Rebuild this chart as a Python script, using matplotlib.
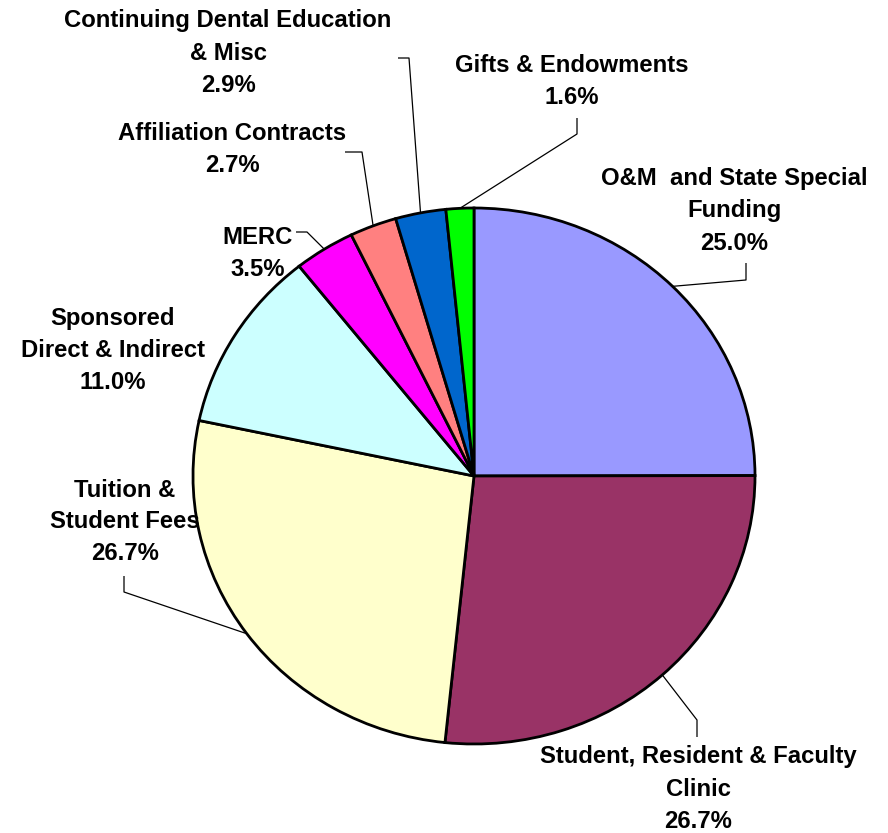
import numpy as np
import matplotlib
matplotlib.use("Agg")
import matplotlib.pyplot as plt

labels = ["O&M  and State Special\nFunding", "Student, Resident & Faculty\nClinic",
          "Tuition &\nStudent Fees", "Sponsored\nDirect & Indirect", "MERC",
          "Affiliation Contracts", "Continuing Dental Education\n& Misc", "Gifts & Endowments"]
values = [25.0, 26.7, 26.7, 11.0, 3.5, 2.7, 2.9, 1.6]
colors = ["#9999FF", "#993366", "#FFFFCC", "#CCFFFF", "#FF00FF", "#FF8080", "#0066CC", "#00FF00"]

W, H = 888, 833
CX, CY, RX, RY = 474, 476, 281, 268

def d(px, py):
    return ((px - CX) / RX, (CY - py) / RY)

fig = plt.figure(figsize=(W / 100, H / 100), dpi=100)
ax = fig.add_axes([0, 0, 1, 1])
wedges, _ = ax.pie(values, colors=colors, startangle=90, counterclock=False,
                   wedgeprops=dict(edgecolor="black", linewidth=2))
ax.set_aspect("auto")
ax.set_xlim(d(0, 0)[0], d(W, 0)[0])
ax.set_ylim(d(0, H)[1], d(0, 0)[1])
ax.axis("off")

# label layout: text centre (px) and leader elbow path (px), None = no leader
layout = [
    ((734, 211), [(746, 263), (746, 280)]),
    ((698, 789), [(697, 737), (697, 720)]),
    ((125, 522), [(124, 576), (124, 592)]),
    ((113, 350), None),
    ((258, 253), [(296, 232), (307, 232)]),
    ((232, 149), [(345, 152), (362, 152)]),
    ((228, 53), [(398, 58), (409, 58)]),
    ((572, 81), [(577, 118), (577, 134)]),
]

total = sum(values)
cum = 0
for lab, v, (tc, path) in zip(labels, values, layout):
    mid = (cum + v / 2) / total
    cum += v
    ang = np.deg2rad(90 - 360 * mid)
    txt = f"{lab}\n{v:.1f}%"
    x, y = d(*tc)
    ax.text(x, y, txt, ha="center", va="center", fontsize=17.2, fontweight="bold",
            family=["Liberation Sans", "DejaVu Sans"], linespacing=1.5)
    if path is not None:
        pts = [d(*p) for p in path] + [(np.cos(ang), np.sin(ang))]
        xs, ys = zip(*pts)
        ax.plot(xs, ys, color="black", linewidth=0.9, solid_capstyle="butt")

fig.savefig("out.png", dpi=100)
